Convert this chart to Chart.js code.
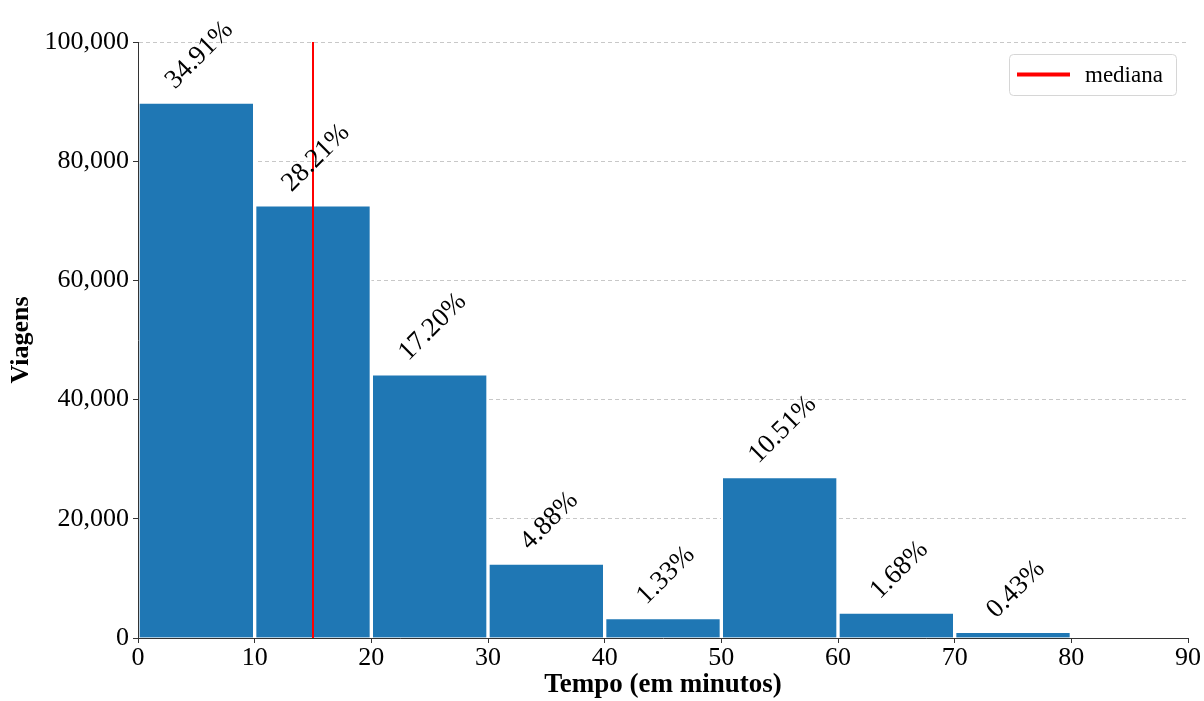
<!DOCTYPE html>
<html>
<head>
<meta charset="utf-8">
<script src="https://cdn.jsdelivr.net/npm/chart.js@4/dist/chart.umd.min.js"></script>
<style>
html,body{margin:0;padding:0;background:#fff;}
#wrap{width:1204px;height:701px;position:relative;}
</style>
</head>
<body>
<div id="wrap"><canvas id="c" width="1204" height="701"></canvas></div>
<script>
// ---- data ----
const binCenters = [5, 15, 25, 35, 45, 55, 65, 75];
const tripCounts = [89930, 72670, 44310, 12570, 3430, 27080, 4330, 1110];
const percentLabels = ['34.91%', '28.21%', '17.20%', '4.88%', '1.33%', '10.51%', '1.68%', '0.43%'];
const medianValue = 15;
const medianLabel = 'mediana';
const xTicks = [0, 10, 20, 30, 40, 50, 60, 70, 80, 90];
const yTicks = [0, 20000, 40000, 60000, 80000, 100000];

const SERIF = '"Liberation Serif", "DejaVu Serif", serif';

const pctPlugin = {
  id: 'pct',
  afterDatasetsDraw(chart) {
    const ctx = chart.ctx;
    const meta = chart.getDatasetMeta(0);
    ctx.save();
    ctx.font = '27px ' + SERIF;
    ctx.fillStyle = '#000';
    ctx.textAlign = 'center';
    ctx.textBaseline = 'middle';
    meta.data.forEach((bar, i) => {
      const txt = percentLabels[i];
      const w = ctx.measureText(txt).width;
      const h = 18;
      const half = (w + h) * Math.SQRT1_2 / 2;
      const cx = bar.x + 3;
      const cy = bar.y - 11 - half;
      ctx.save();
      ctx.translate(cx, cy);
      ctx.rotate(-Math.PI / 4);
      ctx.fillText(txt, 0, 0);
      ctx.restore();
    });
    ctx.restore();
  }
};

const legendPlugin = {
  id: 'boxLegend',
  afterDraw(chart) {
    const ctx = chart.ctx;
    const a = chart.chartArea;
    const bw = 167, bh = 41;
    const x = a.right - 12 - bw, y = a.top + 12;
    ctx.save();
    ctx.beginPath();
    if (ctx.roundRect) ctx.roundRect(x + 0.5, y + 0.5, bw, bh, 4); else ctx.rect(x + 0.5, y + 0.5, bw, bh);
    ctx.fillStyle = 'rgba(255,255,255,0.8)';
    ctx.fill();
    ctx.strokeStyle = '#d6d6d6';
    ctx.lineWidth = 1;
    ctx.stroke();
    const ds = chart.data.datasets[1];
    ctx.strokeStyle = ds.borderColor;
    ctx.lineWidth = 4;
    ctx.beginPath();
    ctx.moveTo(x + 8, y + bh / 2);
    ctx.lineTo(x + 61, y + bh / 2);
    ctx.stroke();
    ctx.fillStyle = '#000';
    ctx.font = '23px ' + SERIF;
    ctx.textBaseline = 'middle';
    ctx.fillText(ds.label, x + 76, y + bh / 2 + 1);
    ctx.restore();
  }
};

new Chart(document.getElementById('c'), {
  type: 'bar',
  data: {
    datasets: [
      {
        type: 'bar',
        label: 'Viagens',
        data: binCenters.map((x, i) => ({ x: x, y: tripCounts[i] })),
        backgroundColor: '#1f77b4',
        borderColor: '#ffffff',
        borderWidth: 2,
        barPercentage: 1,
        categoryPercentage: 1,
        order: 2
      },
      {
        type: 'line',
        label: medianLabel,
        data: [{ x: medianValue, y: 0 }, { x: medianValue, y: 100000 }],
        borderColor: '#ff0000',
        borderWidth: 2,
        pointRadius: 0,
        fill: false,
        order: 1
      }
    ]
  },
  options: {
    responsive: false,
    animation: false,
    layout: { padding: { top: 42, right: 16, left: 0, bottom: 0 } },
    plugins: { legend: { display: false }, tooltip: { enabled: false } },
    scales: {
      x: {
        type: 'linear',
        min: 0, max: 90,
        offset: false,
        afterBuildTicks(s) { s.ticks = xTicks.map(v => ({ value: v })); },
        afterFit(s) { s.height = 63; },
        grid: { drawOnChartArea: false, drawTicks: true, tickLength: 5, tickColor: '#333', offset: false },
        border: { display: true, color: '#333', width: 1, z: 1 },
        ticks: { font: { family: SERIF, size: 26 }, color: '#000', padding: 0, maxRotation: 0 },
        title: { display: true, text: 'Tempo (em minutos)', font: { family: SERIF, size: 27, weight: 'bold' }, color: '#000', padding: { top: 0, bottom: 0 } }
      },
      y: {
        min: 0, max: 100000,
        afterBuildTicks(s) { s.ticks = yTicks.map(v => ({ value: v })); },
        afterFit(s) { s.width = 138; },
        grid: { color: '#c8c8c8', lineWidth: 1, drawTicks: true, tickLength: 5, tickColor: '#333' },
        border: { display: true, color: '#333', width: 1, dash: [4, 3], z: 1 },
        ticks: { font: { family: SERIF, size: 26 }, color: '#000', padding: 4, callback: v => v.toLocaleString('en-US') },
        title: { display: true, text: 'Viagens', font: { family: SERIF, size: 26, weight: 'bold' }, color: '#000', padding: { top: 6, bottom: 0 } }
      }
    }
  },
  plugins: [pctPlugin, legendPlugin]
});
</script>
</body>
</html>
